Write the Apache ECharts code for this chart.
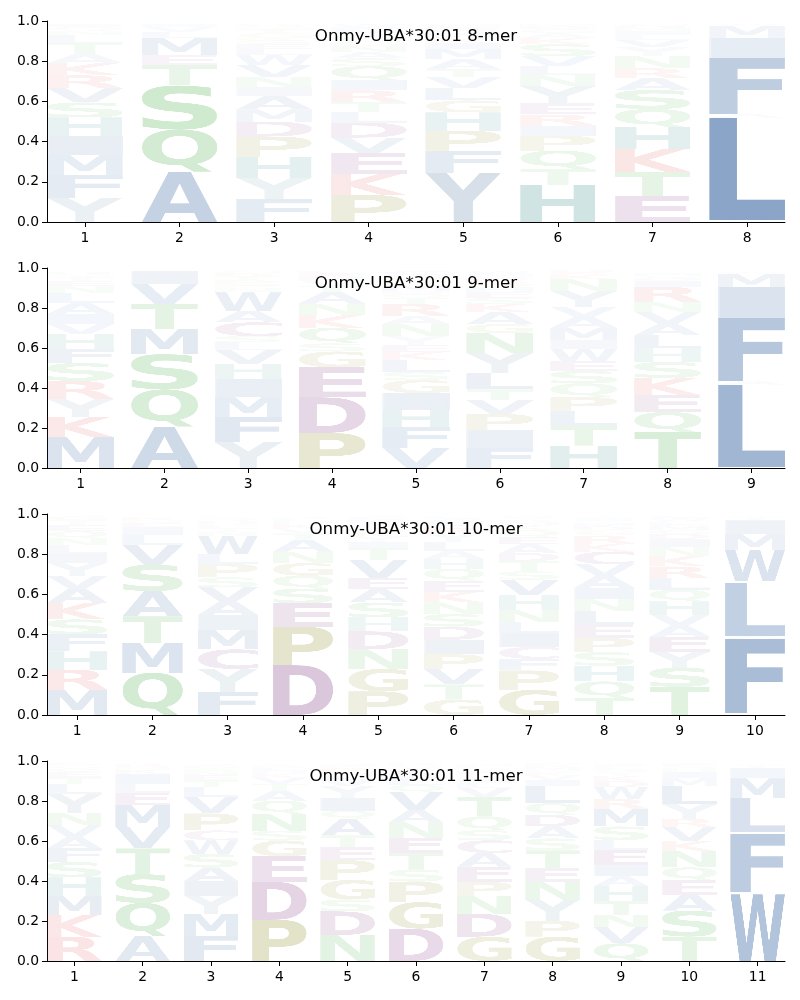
<!DOCTYPE html>
<html>
<head>
<meta charset="utf-8">
<script src="https://cdn.jsdelivr.net/npm/echarts@6/dist/echarts.min.js"></script>
<style>
html, body { margin: 0; padding: 0; background: #fff; }
#chart { width: 800px; height: 1000px; }
</style>
</head>
<body>
<div id="chart"></div>
<script>
// each column = one peptide position, residues listed bottom to top with their frequency
const mer8 = [
  [['Y',.12],['F',.115],['M',.1],['I',.095],['H',.09],['S',.075],['V',.07],['R',.065],['K',.06],['A',.045],['T',.055],['L',.04],['N',.02],['Q',.02],['E',.015]],
  [['A',.25],['Q',.21],['S',.22],['T',.1],['E',.05],['M',.085],['L',.03],['V',.025],['I',.015]],
  [['F',.115],['Y',.105],['H',.105],['P',.1],['D',.075],['M',.06],['A',.065],['I',.045],['N',.05],['V',.06],['W',.05],['L',.03],['E',.025],['S',.02],['K',.01],['G',.025],['T',.02],['Q',.015],['R',.01]],
  [['P',.135],['K',.105],['E',.105],['V',.075],['D',.075],['L',.05],['T',.05],['R',.06],['I',.05],['Q',.07],['S',.04],['A',.03],['N',.03],['G',.025],['H',.02],['Y',.015],['M',.02],['F',.015],['W',.015]],
  [['Y',.245],['F',.11],['P',.1],['H',.09],['G',.06],['L',.06],['V',.055],['T',.04],['A',.05],['M',.05],['I',.03],['K',.025],['W',.02],['S',.02],['E',.015],['N',.015]],
  [['H',.185],['T',.08],['Q',.09],['P',.075],['I',.05],['R',.055],['E',.055],['Y',.085],['N',.055],['L',.045],['V',.05],['S',.06],['K',.03],['A',.025],['G',.02],['D',.015],['M',.01]],
  [['E',.128],['T',.122],['K',.114],['H',.108],['Q',.09],['S',.095],['A',.058],['R',.05],['N',.06],['Y',.045],['V',.035],['L',.025],['I',.02],['M',.015],['D',.01],['G',.01]],
  [['V',.012],['L',.505],['A',.02],['F',.28],['I',.1],['M',.06],['W',.01]]
];

const mer9 = [
  [['M',.155],['K',.1],['Y',.09],['R',.09],['S',.09],['F',.07],['H',.075],['V',.05],['I',.05],['A',.055],['L',.05],['N',.035],['E',.025],['T',.02],['Q',.015],['D',.01]],
  [['A',.207],['Q',.186],['S',.177],['M',.125],['T',.125],['V',.1],['I',.065]],
  [['Y',.128],['F',.128],['M',.1],['I',.09],['H',.075],['V',.068],['L',.04],['S',.03],['C',.07],['A',.057],['W',.092],['N',.02],['K',.01],['E',.01],['P',.02],['T',.02],['R',.015],['G',.012]],
  [['P',.175],['D',.178],['E',.15],['G',.08],['S',.04],['Q',.077],['K',.063],['N',.059],['A',.058],['T',.03],['V',.025],['H',.02],['R',.015],['L',.015]],
  [['V',.1],['F',.105],['H',.085],['I',.085],['G',.065],['S',.04],['L',.06],['K',.04],['E',.035],['Y',.045],['N',.06],['A',.04],['R',.06],['T',.03],['Q',.02],['D',.015],['M',.03],['P',.025],['W',.025],['C',.02]],
  [['F',.102],['I',.088],['P',.08],['V',.068],['T',.055],['L',.082],['Y',.1],['N',.1],['G',.045],['A',.06],['K',.04],['S',.03],['E',.03],['H',.025],['Q',.02],['R',.015],['D',.015],['M',.015],['W',.015]],
  [['H',.112],['T',.098],['L',.075],['P',.07],['Q',.067],['S',.063],['E',.05],['W',.06],['I',.045],['M',.06],['A',.055],['V',.05],['Y',.08],['N',.06],['K',.02],['R',.015],['D',.01]],
  [['T',.18],['Q',.1],['E',.085],['K',.085],['S',.08],['H',.068],['L',.065],['A',.058],['V',.06],['N',.05],['R',.075],['I',.03],['D',.015],['G',.01],['M',.015],['Y',.01]],
  [['V',.007],['L',.41],['A',.02],['F',.313],['I',.155],['M',.065],['W',.012]]
];

const mer10 = [
  [['M',.126],['R',.1],['H',.09],['F',.085],['S',.075],['K',.083],['A',.07],['V',.062],['Y',.066],['I',.047],['L',.04],['N',.035],['Q',.035],['E',.03],['T',.025],['G',.02]],
  [['Q',.21],['M',.148],['T',.133],['A',.125],['S',.132],['V',.097],['L',.05],['I',.04],['E',.02],['N',.015],['K',.015]],
  [['F',.116],['Y',.113],['C',.098],['M',.095],['I',.075],['A',.068],['V',.07],['S',.05],['P',.067],['L',.05],['W',.09],['N',.02],['T',.015],['E',.015],['R',.01],['H',.015],['Q',.01],['G',.01]],
  [['D',.248],['P',.192],['E',.116],['S',.073],['Q',.064],['G',.063],['N',.057],['A',.06],['T',.03],['V',.025],['K',.02],['H',.015],['L',.012],['R',.01]],
  [['P',.118],['G',.112],['N',.098],['D',.088],['H',.07],['S',.074],['A',.065],['E',.058],['V',.09],['T',.06],['I',.03],['Y',.025],['K',.02],['Q',.02],['L',.015],['R',.01],['M',.015],['F',.01],['C',.01]],
  [['G',.077],['T',.075],['V',.077],['P',.073],['I',.072],['D',.066],['S',.062],['N',.058],['K',.053],['E',.056],['Q',.058],['H',.05],['A',.04],['L',.045],['Y',.04],['R',.03],['F',.02],['M',.015],['W',.01],['C',.01]],
  [['G',.126],['P',.096],['F',.057],['C',.06],['I',.067],['L',.055],['N',.062],['H',.072],['V',.078],['S',.042],['T',.05],['D',.04],['A',.045],['E',.035],['Q',.035],['K',.025],['M',.015],['R',.01],['Y',.01],['W',.01]],
  [['T',.085],['Q',.082],['H',.078],['S',.068],['P',.07],['E',.068],['L',.066],['N',.058],['I',.058],['A',.06],['V',.057],['C',.063],['K',.04],['R',.04],['G',.025],['D',.02],['M',.015],['Y',.01],['F',.01],['W',.01]],
  [['T',.14],['S',.095],['Y',.08],['E',.075],['A',.055],['V',.055],['H',.065],['Q',.058],['L',.058],['R',.058],['K',.052],['N',.045],['I',.04],['D',.025],['G',.02],['M',.02],['F',.015],['P',.01],['W',.015],['C',.01]],
  [['V',.008],['F',.37],['A',.017],['L',.263],['Y',.01],['W',.152],['M',.08],['I',.068],['T',.015]]
];

const mer11 = [
  [['R',.122],['K',.108],['M',.098],['H',.09],['S',.077],['F',.068],['A',.057],['V',.058],['N',.062],['Y',.093],['L',.05],['T',.035],['E',.025],['Q',.02],['G',.015],['D',.01]],
  [['A',.125],['Q',.165],['S',.145],['T',.128],['V',.108],['M',.108],['E',.063],['L',.045],['I',.05],['K',.02],['N',.015],['R',.015]],
  [['F',.127],['M',.11],['Y',.09],['I',.072],['A',.068],['S',.068],['W',.068],['C',.05],['P',.085],['V',.08],['L',.05],['T',.035],['E',.025],['N',.02],['Q',.015],['D',.01],['G',.01]],
  [['P',.206],['D',.19],['E',.128],['G',.078],['S',.05],['N',.085],['Q',.065],['A',.05],['T',.035],['V',.03],['K',.02],['H',.015],['L',.015],['R',.01],['Y',.01]],
  [['N',.13],['D',.118],['S',.06],['G',.098],['P',.098],['E',.064],['T',.06],['A',.083],['Q',.04],['I',.063],['Y',.06],['V',.03],['L',.02],['H',.015],['K',.01],['R',.015],['F',.01],['M',.01]],
  [['D',.162],['G',.133],['P',.102],['S',.06],['T',.084],['E',.076],['N',.076],['A',.062],['V',.09],['Q',.035],['L',.03],['I',.025],['K',.02],['Y',.015],['H',.01],['R',.01]],
  [['G',.122],['D',.114],['N',.088],['P',.072],['E',.076],['A',.068],['C',.064],['S',.05],['Q',.068],['T',.098],['V',.045],['L',.025],['I',.02],['K',.015],['H',.01],['R',.015],['Y',.015],['F',.01],['M',.01]],
  [['G',.122],['P',.08],['Y',.105],['N',.09],['E',.068],['T',.088],['S',.06],['A',.06],['D',.058],['Q',.058],['L',.085],['I',.03],['V',.025],['K',.015],['H',.01],['M',.015],['R',.01],['F',.01]],
  [['Q',.088],['V',.08],['N',.063],['T',.07],['H',.073],['A',.05],['I',.058],['E',.073],['L',.05],['S',.068],['M',.087],['R',.05],['W',.06],['D',.03],['K',.025],['Y',.02],['G',.015],['F',.01],['P',.015]],
  [['T',.122],['S',.13],['A',.08],['E',.072],['Q',.064],['N',.082],['K',.05],['V',.068],['R',.043],['Y',.072],['L',.09],['M',.04],['I',.03],['H',.015],['G',.01],['D',.01],['F',.01]],
  [['W',.333],['V',.012],['F',.288],['Y',.012],['L',.168],['M',.1],['I',.05],['T',.015]]
];

const panelTitles = ['Onmy-UBA*30:01 8-mer', 'Onmy-UBA*30:01 9-mer', 'Onmy-UBA*30:01 10-mer', 'Onmy-UBA*30:01 11-mer'];
const panelCols = [mer8, mer9, mer10, mer11];
const yTicks = [0, 0.2, 0.4, 0.6, 0.8, 1.0];

const residueColors = {
  A: '#194e93', V: '#194e93', L: '#194e93', I: '#194e93', M: '#194e93', F: '#194e93', W: '#194e93',
  S: '#2ca02c', T: '#2ca02c', N: '#2ca02c', Q: '#2ca02c',
  K: '#d62728', R: '#d62728',
  D: '#6e1e6e', E: '#6e1e6e', C: '#782878',
  P: '#787800', G: '#787800',
  H: '#006e6e', Y: '#5a82a0'
};

// letter shapes: draw each residue once so its ink exactly fills a canvas, later stretched per box
const glyphs = {};
function makeGlyph(ch, color) {
  const c = document.createElement('canvas');
  let ctx = c.getContext('2d');
  const font = 'bold 200px "DejaVu Sans"';
  ctx.font = font;
  const m = ctx.measureText(ch);
  const l = m.actualBoundingBoxLeft, r = m.actualBoundingBoxRight;
  const a = m.actualBoundingBoxAscent, d = m.actualBoundingBoxDescent;
  c.width = Math.ceil(l + r);
  c.height = Math.ceil(a + d);
  ctx = c.getContext('2d');
  ctx.font = font;
  ctx.textBaseline = 'alphabetic';
  ctx.fillStyle = color;
  ctx.fillText(ch, l, a);
  return c;
}
Object.keys(residueColors).forEach(k => { glyphs[k] = makeGlyph(k, residueColors[k]); });

const gridTops = [21, 268, 514, 761];
const gridHeights = [201, 200, 201, 200];
const axisFont = { fontFamily: 'DejaVu Sans', fontSize: 13.9, color: '#000' };

const grids = [], xAxes = [], yAxes = [], series = [], titles = [];

panelCols.forEach((cols, i) => {
  const n = cols.length;
  const data = [], meta = [];
  cols.forEach((col, k) => {
    let y = 0;
    col.forEach(([ch, h]) => {
      data.push([k + 1, y, y + h]);
      meta.push({ ch: ch, h: h });
      y += h;
    });
  });
  const positions = [];
  for (let k = 1; k <= n; k++) positions.push(k);

  grids.push({ left: 47, right: 15, top: gridTops[i], height: gridHeights[i] });
  xAxes.push({
    type: 'value', gridIndex: i, min: 0.6, max: n + 0.4,
    axisLine: { lineStyle: { color: '#000', width: 1 } },
    axisTick: { length: 5, lineStyle: { color: '#000' }, customValues: positions },
    axisLabel: Object.assign({ margin: 9, customValues: positions }, axisFont),
    splitLine: { show: false }
  });
  yAxes.push({
    type: 'value', gridIndex: i, min: 0, max: 1, interval: 0.2,
    axisLine: { show: true, lineStyle: { color: '#000', width: 1 } },
    axisTick: { show: true, length: 5, lineStyle: { color: '#000' } },
    axisLabel: Object.assign({ margin: 8, formatter: v => v.toFixed(1) }, axisFont),
    splitLine: { show: false }
  });
  series.push({
    type: 'custom', xAxisIndex: i, yAxisIndex: i, data: data,
    encode: { x: 0, y: [1, 2] },
    silent: true,
    renderItem: function (params, api) {
      const m = meta[params.dataIndex];
      const x = api.value(0);
      const tl = api.coord([x - 0.4, api.value(2)]);
      const br = api.coord([x + 0.4, api.value(1)]);
      return {
        type: 'image',
        style: {
          image: glyphs[m.ch],
          x: tl[0], y: tl[1],
          width: br[0] - tl[0], height: br[1] - tl[1],
          opacity: Math.min(1, m.h)
        }
      };
    }
  });
  titles.push({
    text: panelTitles[i], left: 416, top: gridTops[i] + 6, textAlign: 'center', padding: 0,
    textStyle: { fontFamily: 'DejaVu Sans', fontSize: 16.7, fontWeight: 'normal', color: '#000', lineHeight: 19 }
  });
});

const chart = echarts.init(document.getElementById('chart'), null, { renderer: 'canvas' });
chart.setOption({
  animation: false,
  backgroundColor: '#fff',
  title: titles,
  grid: grids,
  xAxis: xAxes,
  yAxis: yAxes,
  series: series
});
</script>
</body>
</html>
